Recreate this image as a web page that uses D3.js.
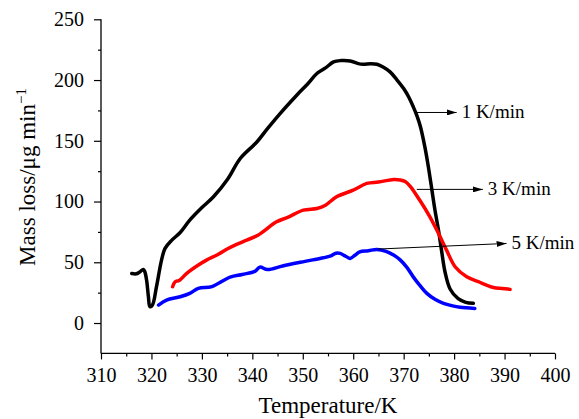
<!DOCTYPE html>
<meta charset="utf-8">
<head>
<style>
  body { margin: 0; background: #fff; }
  svg { font-family: 'Liberation Serif', 'Times New Roman', serif; }
  .axis-title { font-size: 23px; fill: #000; }
  .rate { font-size: 19px; fill: #000; }
</style>
</head>
<body>
<svg width="579" height="419"></svg>
<script src="https://d3js.org/d3.v7.min.js"></script>
<script>
// 1 K/min
var temp1 = [316.1, 317.0, 317.6, 318.4, 318.7, 319.05, 319.4, 319.7, 320.2, 321.0, 322.0, 322.7, 324.0, 325.7, 327.6, 330, 332.3, 335.2, 337.6, 340.9, 343, 345.5, 348.8, 351, 352.8, 354.5, 356.1, 357.5, 359.4, 361, 362.0, 363.5, 364.7, 366, 367.3, 368.6, 370.0, 371.0, 371.9, 372.6, 373.3, 374.2, 374.9, 375.6, 376.2, 376.9, 377.5, 378.2, 379.2, 380.8, 382.3, 383.8];
var loss1 = [40.7, 40.5, 41.8, 44.1, 42, 35, 21.6, 13.4, 14.8, 29.9, 51.8, 61.4, 68, 74.5, 84.7, 95, 103.9, 119, 135.4, 149, 160, 172.4, 187.5, 197, 205.4, 210, 214.9, 216, 215.7, 213.5, 213, 213.5, 213, 210.5, 206.7, 200.5, 193, 186, 178, 171, 162, 145, 128.5, 109.4, 93, 76.5, 60, 42, 28, 20, 17, 16.2];
// 3 K/min
var temp3 = [324.2, 324.7, 325.5, 327.0, 329.3, 331, 333, 335, 337, 338.9, 341, 344.8, 347, 350.1, 352.8, 354.5, 356.7, 360.0, 362.7, 365, 368.0, 369.3, 370.3, 371.3, 373.2, 375.2, 376.9, 378.5, 380.2, 382.5, 384.8, 387.8, 389.5, 391.1];
var loss3 = [29.9, 34, 35, 40.9, 47.7, 52, 56, 61, 65, 68.3, 72, 83.3, 87, 92.9, 94.3, 97, 103.9, 109.4, 114.9, 116, 118.2, 117.8, 116.5, 112.5, 101, 87.4, 73.8, 60, 46.3, 38, 34, 29.3, 28.5, 27.7];
// 5 K/min
var temp5 = [321.4, 323.0, 325.7, 327.6, 329.3, 332, 335.6, 338, 340.5, 341.5, 343, 346, 349.5, 352, 355.4, 356.6, 357.4, 358.5, 359.4, 360.4, 361.3, 363, 364.7, 366.5, 368.0, 369.3, 370.6, 371.9, 373.2, 374.6, 376.2, 377.9, 379.5, 381.2, 384.1];
var loss5 = [14.8, 18.9, 21.6, 24.4, 28.5, 30, 37.8, 40, 42.5, 46, 44, 47, 50, 52, 55, 57.5, 57.3, 55, 53.2, 56, 58.6, 59.5, 60.6, 59, 55.9, 52, 46, 38, 31, 24.4, 19.5, 16.2, 14.3, 12.9, 12];

var seriesNames = ["1 K/min", "3 K/min", "5 K/min"];
var seriesColors = ["#000000", "#ff0000", "#0000ff"];
// arrow: [start T, start y, end T, end y]
var arrows = [[372.6, 173.3, 380.5, 173.3], [372.6, 110, 385.7, 110], [365.0, 60.9, 390.4, 65.5]];

var xTicks = [310, 320, 330, 340, 350, 360, 370, 380, 390, 400];
var yTicks = [0, 50, 100, 150, 200, 250];

var svg = d3.select("svg");
var x = d3.scaleLinear().domain([310, 400]).range([101, 555]);
var y = d3.scaleLinear().domain([-25, 250]).range([353.4, 19.3]);

svg.append("defs").append("marker")
  .attr("id", "head")
  .attr("viewBox", "0 0 10 6")
  .attr("refX", 10).attr("refY", 3)
  .attr("markerWidth", 10).attr("markerHeight", 6)
  .attr("markerUnits", "userSpaceOnUse")
  .attr("orient", "auto")
  .append("path").attr("d", "M0,0L10,3L0,6Z").attr("fill", "#000");

// axes
var xg = svg.append("g").attr("transform", "translate(0," + y(-25) + ")")
  .call(d3.axisBottom(x).tickValues(xTicks).tickSize(6).tickPadding(8).tickFormat(d3.format("d")));
svg.append("g").attr("transform", "translate(0," + y(-25) + ")")
  .call(d3.axisBottom(x).tickValues(d3.range(315, 400, 10)).tickSize(3).tickFormat(""))
  .select(".domain").remove();

var yg = svg.append("g").attr("transform", "translate(" + x(310) + ",0)")
  .call(d3.axisLeft(y).tickValues(yTicks).tickSize(7).tickPadding(10).tickFormat(d3.format("d")));
svg.append("g").attr("transform", "translate(" + x(310) + ",0)")
  .call(d3.axisLeft(y).tickValues(d3.range(25, 250, 50)).tickSize(3).tickFormat(""))
  .select(".domain").remove();

// axis lines: x from 310 to 400, y from -25 to 250, no end caps
xg.select(".domain").attr("d", "M" + x(310) + ",0H" + x(400)).attr("stroke-width", 1.3);
yg.select(".domain").attr("d", "M0," + y(-25) + "V" + y(250)).attr("stroke-width", 1.3);
svg.selectAll(".tick line").attr("stroke-width", 1.2);
svg.selectAll(".tick text")
  .style("font-family", "'Liberation Serif', serif").style("font-size", "20px");

// series
var line = d3.line().x(function(d) { return x(d[0]); }).y(function(d) { return y(d[1]); })
  .curve(d3.curveCatmullRom.alpha(0.5));
var series = [d3.zip(temp1, loss1), d3.zip(temp3, loss3), d3.zip(temp5, loss5)];
svg.selectAll(".series").data(series).enter().append("path")
  .attr("class", "series")
  .attr("d", line)
  .attr("fill", "none")
  .attr("stroke", function(d, i) { return seriesColors[i]; })
  .attr("stroke-width", 3.5)
  .attr("stroke-linejoin", "round")
  .attr("stroke-linecap", "round");

// rate annotations
arrows.forEach(function(a, i) {
  svg.append("line")
    .attr("x1", x(a[0])).attr("y1", y(a[1]))
    .attr("x2", x(a[2])).attr("y2", y(a[3]))
    .attr("stroke", "#000").attr("stroke-width", 1)
    .attr("marker-end", "url(#head)");
  svg.append("text").attr("class", "rate")
    .attr("x", x(a[2]) + 5).attr("y", y(a[3]) + 6)
    .text(seriesNames[i]);
});

// titles
svg.append("text").attr("class", "axis-title")
  .attr("x", (x(310) + x(400)) / 2).attr("y", 413)
  .attr("text-anchor", "middle")
  .text("Temperature/K");

var yt = svg.append("text").attr("class", "axis-title")
  .attr("transform", "translate(35,177) rotate(-90)")
  .attr("text-anchor", "middle");
yt.append("tspan").text("Mass loss/\u03bcg min");
yt.append("tspan").attr("dy", -9).style("font-size", "15px").text("\u22121");
</script>
</body>
